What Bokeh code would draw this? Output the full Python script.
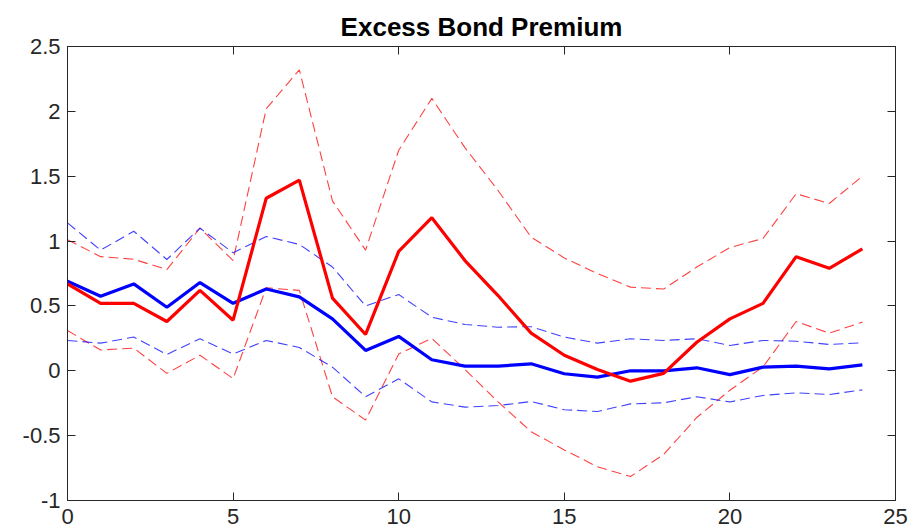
from bokeh.plotting import figure
from bokeh.models import LinearAxis, Range1d, FixedTicker
from bokeh.embed import file_html
from bokeh.resources import INLINE

horizon = list(range(25))

red_mid = [0.67, 0.52, 0.52, 0.38, 0.62, 0.39, 1.33, 1.47, 0.56, 0.28, 0.92, 1.18, 0.85, 0.58,
           0.29, 0.12, 0.01, -0.08, -0.02, 0.22, 0.40, 0.52, 0.88, 0.79, 0.94]
red_hi = [1.01, 0.88, 0.86, 0.78, 1.10, 0.85, 2.02, 2.32, 1.31, 0.93, 1.70, 2.10, 1.72, 1.39,
          1.03, 0.87, 0.75, 0.645, 0.63, 0.80, 0.95, 1.02, 1.365, 1.29, 1.50]
red_lo = [0.31, 0.16, 0.175, -0.02, 0.12, -0.06, 0.64, 0.62, -0.20, -0.38, 0.13, 0.25, 0.01, -0.24,
          -0.47, -0.61, -0.74, -0.815, -0.645, -0.36, -0.15, 0.03, 0.38, 0.29, 0.375]
blue_mid = [0.69, 0.575, 0.67, 0.49, 0.68, 0.52, 0.63, 0.57, 0.40, 0.157, 0.265, 0.085, 0.036, 0.036,
            0.054, -0.023, -0.049, 0.0, 0.0, 0.023, -0.03, 0.028, 0.036, 0.015, 0.045]
blue_hi = [1.14, 0.93, 1.076, 0.858, 1.10, 0.91, 1.035, 0.974, 0.80, 0.50, 0.588, 0.413, 0.357, 0.336,
           0.34, 0.26, 0.213, 0.247, 0.234, 0.247, 0.195, 0.234, 0.228, 0.203, 0.216]
blue_lo = [0.234, 0.213, 0.26, 0.126, 0.247, 0.13, 0.234, 0.18, 0.028, -0.20, -0.062, -0.24, -0.28, -0.268,
           -0.237, -0.30, -0.314, -0.255, -0.247, -0.20, -0.24, -0.19, -0.17, -0.183, -0.147]

x_ticks = [0, 5, 10, 15, 20, 25]
y_ticks = [-1, -0.5, 0, 0.5, 1, 1.5, 2, 2.5]
y_tick_labels = ["-1", "-0.5", "0", "0.5", "1", "1.5", "2", "2.5"]
title_text = "Excess Bond Premium"

FONT = "Liberation Sans"
AX = "#262626"

p = figure(width=913, height=532, output_backend="svg", toolbar_location=None,
           x_range=Range1d(0, 25), y_range=Range1d(-1, 2.5),
           min_border_left=67, min_border_right=18, min_border_top=46, min_border_bottom=32)
p.title.text = title_text
p.title.align = "center"
p.title.text_font = FONT
p.title.text_font_size = "26px"
p.title.text_font_style = "bold"
p.title.text_color = "black"
p.title.offset = 0
p.title.standoff = 10
p.grid.visible = False
p.outline_line_color = AX
p.background_fill_color = "white"
p.border_fill_color = "white"

p.line(horizon, red_hi, line_color="red", line_width=1.1, line_dash="10 5", line_alpha=0.75)
p.line(horizon, red_lo, line_color="red", line_width=1.1, line_dash="10 5", line_alpha=0.75)
p.line(horizon, blue_hi, line_color="blue", line_width=1.1, line_dash="10 5", line_alpha=0.75)
p.line(horizon, blue_lo, line_color="blue", line_width=1.1, line_dash="10 5", line_alpha=0.75)
p.line(horizon, blue_mid, line_color="blue", line_width=3.2)
p.line(horizon, red_mid, line_color="red", line_width=3.2)

overrides = {t: s for t, s in zip(y_ticks, y_tick_labels)}

def style(ax, ticks, show_labels):
    ax.ticker = FixedTicker(ticks=ticks)
    ax.minor_tick_line_color = None
    ax.major_tick_in = 8
    ax.major_tick_out = 0
    ax.axis_line_color = AX
    ax.major_tick_line_color = AX
    ax.major_label_text_font = FONT
    if show_labels:
        ax.major_label_text_font_size = "22px"
        ax.major_label_text_color = "#262626"
    else:
        ax.major_label_text_font_size = "1px"
        ax.major_label_text_color = None
        ax.major_label_standoff = 0

style(p.xaxis[0], x_ticks, True)
p.xaxis[0].major_label_standoff = 8
style(p.yaxis[0], y_ticks, True)
p.yaxis[0].major_label_overrides = overrides
p.yaxis[0].major_label_standoff = 7

top = LinearAxis()
style(top, x_ticks, False)
p.add_layout(top, "above")
right = LinearAxis()
style(right, y_ticks, False)
p.add_layout(right, "right")

open("out.html", "w").write(file_html(p, INLINE))
